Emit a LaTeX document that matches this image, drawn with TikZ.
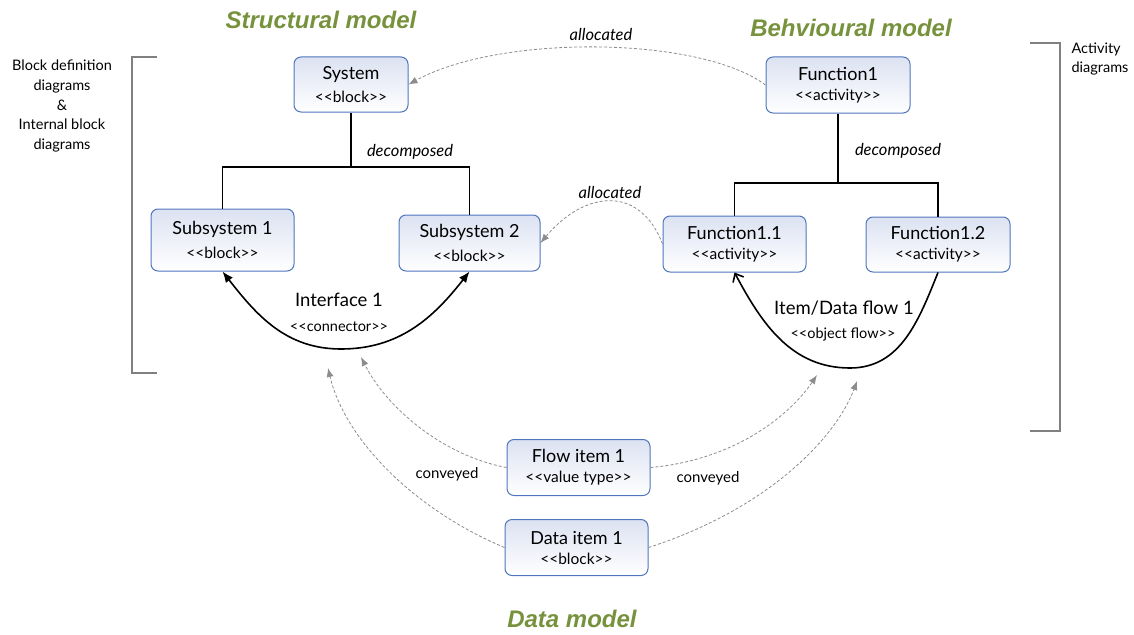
\documentclass[tikz,border=0pt]{standalone}
\usepackage{fontspec}
\setmainfont{Lato}
\newfontfamily\titlefont{Liberation Sans}
\usetikzlibrary{arrows.meta}
\definecolor{boxblue}{HTML}{4F76BD}
\definecolor{boxtop}{HTML}{DCE2F2}
\definecolor{olivegreen}{HTML}{76923C}
\definecolor{dgray}{HTML}{8C8C8C}
\definecolor{bracketgray}{HTML}{808080}
\newcommand\boxtxt[2]{{\fontsize{18}{21}\selectfont #1}\\[8pt]{\fontsize{15.5}{17}\selectfont #2}}
\begin{document}
\begin{tikzpicture}[x=1pt,y=-1pt,
  box/.style={draw=boxblue, line width=1pt, rounded corners=7pt, top color=boxtop, bottom color=white,
    minimum width=143pt, minimum height=56pt, align=center, inner sep=2pt},
  tree/.style={line width=1.6pt, black},
  flowline/.style={line width=1.6pt, black},
  dep/.style={dgray, line width=0.8pt, dash pattern=on 3pt off 2pt, -{Latex[length=9pt,width=7pt]}},
  deplab/.style={font=\fontsize{16.5}{19}\selectfont\itshape},
  title/.style={text=olivegreen, font=\titlefont\bfseries\itshape\fontsize{24}{28}\selectfont},
  side/.style={font=\fontsize{14.5}{19.7}\selectfont, align=center},
  bracket/.style={bracketgray, line width=1.5pt}
]
\useasboundingbox (0,0) rectangle (1134,634);

% titles
\node[title] (tstruct) at (321,20) {Structural model};
\node[title] (tbehav) at (851,28) {Behvioural model};
\node[title] (tdata) at (572,619) {Data model};

% side texts and brackets
\node[side] (lside) at (62,106) {Block definition\\diagrams\\\&\\Internal block\\diagrams};
\node[side, align=left, anchor=north west] (rside) at (1068,39) {Activity\\diagrams};
\coordinate (lb1) at (157,57); \coordinate (lb2) at (132,57);
\coordinate (lb3) at (132,373); \coordinate (lb4) at (157,373);
\draw[bracket] (lb1) -- (lb2) -- (lb3) -- (lb4);
\coordinate (rb1) at (1030,43); \coordinate (rb2) at (1060,43);
\coordinate (rb3) at (1060,431); \coordinate (rb4) at (1030,431);
\draw[bracket] (rb1) -- (rb2) -- (rb3) -- (rb4);

% boxes
\node[box, minimum width=114pt, minimum height=55pt] (sys) at (351,84.5) {\boxtxt{System}{<{}<block>{}>}};
\node[box, minimum width=144pt] (f1) at (838,85) {\boxtxt{Function1}{<{}<activity>{}>}};
\node[box, minimum height=62pt] (s1) at (222.5,240) {\boxtxt{Subsystem 1}{<{}<block>{}>}};
\node[box, minimum width=141pt] (s2) at (469.5,243) {\boxtxt{Subsystem 2}{<{}<block>{}>}};
\node[box] (f11) at (734.5,244) {\boxtxt{Function1.1}{<{}<activity>{}>}};
\node[box, minimum width=144pt, minimum height=55pt] (f12) at (938,244.5) {\boxtxt{Function1.2}{<{}<activity>{}>}};
\node[box] (fi) at (578.5,467.5) {\boxtxt{Flow item 1}{<{}<value type>{}>}};
\node[box] (di) at (576.5,547.5) {\boxtxt{Data item 1}{<{}<block>{}>}};

% decomposition trees
\coordinate (lj) at (351,167);
\draw[tree] (sys.south) -- (lj);
\draw[tree] (s1.north) |- (lj) -| (s2.north);
\node[deplab] (ldec) at (410,152) {decomposed};
\coordinate (rj) at (838,183);
\draw[tree] (f1.south) -- (rj);
\draw[tree] (f11.north) |- (rj) -| (f12.north);
\node[deplab] (rdec) at (898,151) {decomposed};

% interface connector
\coordinate (ibot) at (341,349);
\draw[flowline, {Latex[length=11pt,width=9pt]}-{Latex[length=11pt,width=9pt]}]
  (s1.south) to[out=-52,in=180] (ibot) to[out=0,in=-128] (s2.south);
\node[font=\fontsize{18.5}{21}\selectfont] (iname) at (339,300) {Interface 1};
\node[font=\fontsize{14.5}{16}\selectfont] (istereo) at (339,327) {<{}<connector>{}>};

% object flow
\coordinate (obot) at (850,368);
\draw[flowline, -{Straight Barb[length=7pt,width=12pt]}]
  (f12.south) to[out=-112,in=0] (obot) to[out=180,in=-62] (f11.south);
\node[font=\fontsize{18.5}{21}\selectfont] (oname) at (844,308) {Item/Data flow 1};
\node[font=\fontsize{14.5}{16}\selectfont] (ostereo) at (843,334) {<{}<object flow>{}>};

% allocations
\draw[dep] (f1.west) .. controls (700,36) and (500,34) .. (sys.east);
\node[deplab] (alloc1) at (601,34) {allocated};
\draw[dep] (f11.west) .. controls (640,185) and (585,190) .. (s2.east);
\node[deplab] (alloc2) at (610,192) {allocated};

% conveyed
\coordinate (c1) at (361,357);
\coordinate (c2) at (328,368);
\coordinate (c3) at (817,375);
\coordinate (c4) at (857,381);
\draw[dep] (fi.west) .. controls (440,455) and (385,405) .. (c1);
\draw[dep] (di.west) .. controls (415,510) and (345,440) .. (c2);
\draw[dep] (fi.east) .. controls (735,460) and (790,415) .. (c3);
\draw[dep] (di.east) .. controls (765,510) and (835,440) .. (c4);
\node[font=\fontsize{15}{18}\selectfont] (conv1) at (447,474) {conveyed};
\node[font=\fontsize{15}{18}\selectfont] (conv2) at (708,478) {conveyed};
\end{tikzpicture}
\end{document}
